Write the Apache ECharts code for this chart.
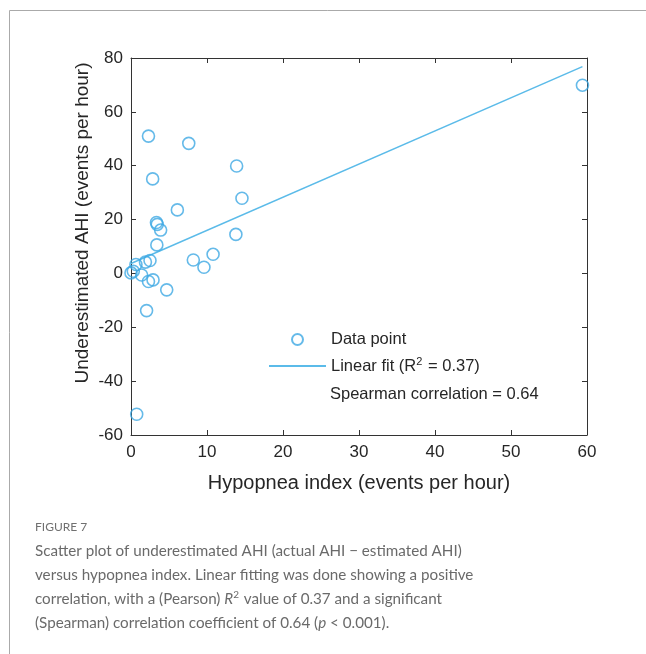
<!DOCTYPE html>
<html>
<head>
<meta charset="utf-8">
<script src="https://cdn.jsdelivr.net/npm/echarts@6/dist/echarts.min.js"></script>
<style>
  html, body { margin: 0; padding: 0; background: #fff; }
  #chart { width: 646px; height: 654px; }
</style>
</head>
<body>
<div id="chart"></div>
<script>
// hypopnea index vs underestimated AHI
var hypopneaIdx = [2.3, 7.6, 13.9, 2.85, 14.6, 6.1, 3.35, 3.45, 3.9, 13.8, 3.4, 10.8, 8.2, 9.6,
  2.5, 1.9, 0.65, 0.3, 0.0, 1.4, 2.3, 2.9, 4.7, 2.05, 0.75, 59.4];
var underAhi = [51.0, 48.3, 39.9, 35.1, 27.9, 23.6, 18.9, 18.2, 16.1, 14.5, 10.6, 7.1, 5.0, 2.3,
  4.8, 4.2, 3.3, 0.8, 0.2, -0.6, -3.0, -2.4, -6.1, -13.8, -52.3, 69.9];
// linear fit end points
var fitX = [0, 59.4];
var fitY = [3.7, 76.8];
var xTicks = { min: 0, max: 60, step: 10 };
var yTicks = { min: -60, max: 80, step: 20 };

var captionLines = [
  'Scatter plot of underestimated AHI (actual AHI \u2212 estimated AHI)',
  'versus hypopnea index. Linear fitting was done showing a positive',
  'correlation, with a (Pearson) {it|R}{sup|2} value of 0.37 and a significant',
  '(Spearman) correlation coefficient of 0.64 ({it|p} < 0.001).'
];

var axisColor = '#333';
var dotColor = '#3fa9e4';
var lineColor = '#5bbbe9';
var axisFont = 'Liberation Sans, Arial, sans-serif';
var capFont = 'Lato, sans-serif';
var capColor = '#6a6a6a';

var myChart = echarts.init(document.getElementById('chart'));

function xAxisOf(pos, showLabel) {
  return {
    type: 'value', position: pos,
    min: xTicks.min, max: xTicks.max, interval: xTicks.step,
    axisLine: { show: true, onZero: false, lineStyle: { color: axisColor, width: 1 } },
    axisTick: { show: true, inside: true, length: 5, lineStyle: { color: axisColor } },
    axisLabel: { show: showLabel, color: '#262626', fontSize: 17, fontFamily: axisFont, margin: 9 },
    splitLine: { show: false }
  };
}
function yAxisOf(pos, showLabel) {
  return {
    type: 'value', position: pos,
    min: yTicks.min, max: yTicks.max, interval: yTicks.step,
    axisLine: { show: true, onZero: false, lineStyle: { color: axisColor, width: 1 } },
    axisTick: { show: true, inside: true, length: 5, lineStyle: { color: axisColor } },
    axisLabel: { show: showLabel, color: '#262626', fontSize: 17, fontFamily: axisFont, margin: 8 },
    splitLine: { show: false }
  };
}

var xBottom = xAxisOf('bottom', true);
xBottom.name = 'Hypopnea index (events per hour)';
xBottom.nameLocation = 'middle';
xBottom.nameGap = 38;
xBottom.nameTextStyle = { color: '#262626', fontSize: 20, fontFamily: axisFont };

var graphics = [
  { type: 'line', shape: { x1: 9.5, y1: 10.5, x2: 646, y2: 10.5 }, style: { stroke: '#aaa', lineWidth: 1 } },
  { type: 'line', shape: { x1: 9.5, y1: 10.5, x2: 9.5, y2: 654 }, style: { stroke: '#aaa', lineWidth: 1 } },
  {
    type: 'text', x: 83, y: 223, rotation: Math.PI / 2,
    style: { text: 'Underestimated AHI (events per hour)', fill: '#262626', font: '19px ' + axisFont,
      align: 'center', verticalAlign: 'middle' }
  },
  {
    type: 'text', x: 330, y: 394,
    style: { text: 'Spearman correlation = 0.64', fill: '#262626', font: '16.5px ' + axisFont,
      verticalAlign: 'middle' }
  },
  {
    type: 'text', x: 35, y: 527,
    style: { text: 'FIGURE 7', fill: '#707070', font: '12px ' + capFont, verticalAlign: 'middle' }
  }
];
captionLines.forEach(function (t, i) {
  graphics.push({
    type: 'text', x: 35, y: 551 + i * 24,
    style: {
      text: t, fill: capColor, font: '15.2px ' + capFont, verticalAlign: 'middle',
      rich: {
        it: { fontStyle: 'italic', fontSize: 15.2, fontFamily: capFont, fill: capColor },
        sup: { fontSize: 10, fontFamily: capFont, fill: capColor, padding: [0, 1, 8, 0] }
      }
    }
  });
});

var option = {
  animation: false,
  backgroundColor: '#fff',
  grid: { left: 131, right: 59, top: 58, bottom: 219, containLabel: false },
  xAxis: [xBottom, xAxisOf('top', false)],
  yAxis: [yAxisOf('left', true), yAxisOf('right', false)],
  legend: {
    orient: 'vertical',
    left: 268,
    top: 331,
    padding: 0,
    itemWidth: 57,
    itemHeight: 11,
    itemGap: 8,
    textStyle: {
      color: '#262626', fontSize: 16.5, fontFamily: axisFont,
      rich: { sup: { fontSize: 11, fontFamily: axisFont, color: '#262626', padding: [0, 1, 9, 0] } }
    },
    formatter: function (name) {
      return name === 'Linear fit' ? 'Linear fit (R{sup|2} = 0.37)' : name;
    },
    data: [
      { name: 'Data point' },
      { name: 'Linear fit', itemStyle: { opacity: 0 } }
    ]
  },
  series: [
    {
      name: 'Data point',
      type: 'scatter',
      symbol: 'circle',
      symbolSize: 12,
      itemStyle: { color: 'rgba(0,0,0,0)', borderColor: dotColor, borderWidth: 1.6 },
      data: hypopneaIdx.map(function (x, i) { return [x, underAhi[i]]; }),
      z: 3
    },
    {
      name: 'Linear fit',
      type: 'line',
      symbol: 'none',
      lineStyle: { color: lineColor, width: 1.5 },
      itemStyle: { color: lineColor },
      data: fitX.map(function (x, i) { return [x, fitY[i]]; }),
      z: 2
    }
  ],
  graphic: graphics
};

myChart.setOption(option);
</script>
</body>
</html>
